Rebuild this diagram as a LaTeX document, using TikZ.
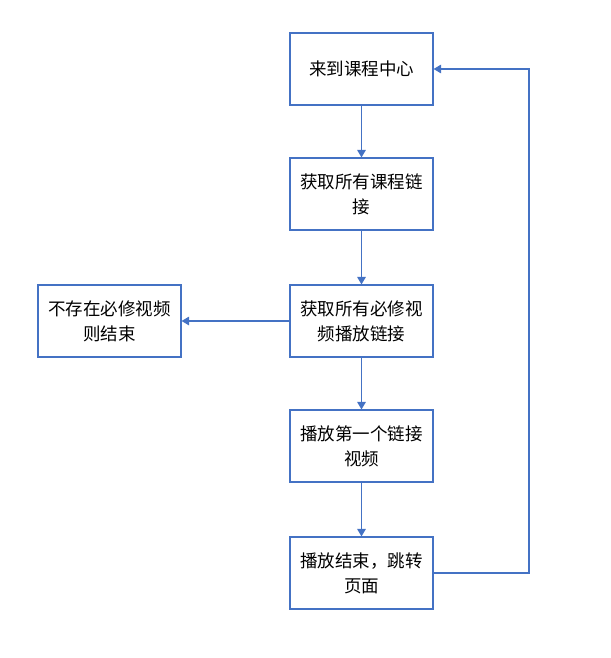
\documentclass[tikz,border=0pt]{standalone}
\usepackage{fontspec}
\usepackage{xcolor}
\usepackage{tikz}
\usetikzlibrary{
  arrows.meta,
  positioning
}
\newfontfamily\cjk{Noto Sans CJK SC}
\definecolor{FlowBlue}{RGB}{68, 114, 196}

\begin{document}
\begin{tikzpicture}[x=1pt, y=-1pt,
    stepbox/.style={rectangle, draw=FlowBlue, line width=1.1pt, fill=white,
      minimum width=143pt, minimum height=72pt, inner sep=0pt,
      align=center, font=\cjk\fontsize{17.5}{25}\selectfont},
    flow/.style={draw=FlowBlue, line width=1.3pt, -{Triangle[width=8.5pt,length=7.5pt]}}
  ]
  \useasboundingbox (0,0) rectangle (610,658);
  \node[stepbox] (center) at (361.5,69) {来到课程中心};
  \node[stepbox] (links) at (361.5,194) {获取所有课程链\\接};
  \node[stepbox] (required) at (361.5,321) {获取所有必修视\\频播放链接};
  \node[stepbox] (norequired) at (109.5,321) {不存在必修视频\\则结束};
  \node[stepbox] (playfirst) at (361.5,446) {播放第一个链接\\视频};
  \node[stepbox] (finish) at (361.5,573) {播放结束，跳转\\页面};
  \coordinate (backtop) at (529,69);
  \coordinate (backbottom) at (529,573);
  % main flow
  \draw[flow] (center) -- (links);
  \draw[flow] (links) -- (required);
  \draw[flow] (required) -- (norequired);
  \draw[flow] (required) -- (playfirst);
  \draw[flow] (playfirst) -- (finish);
  % loop back
  \draw[flow] (finish.east) -- (backbottom) -- (backtop) -- (center.east);
\end{tikzpicture}
\end{document}
